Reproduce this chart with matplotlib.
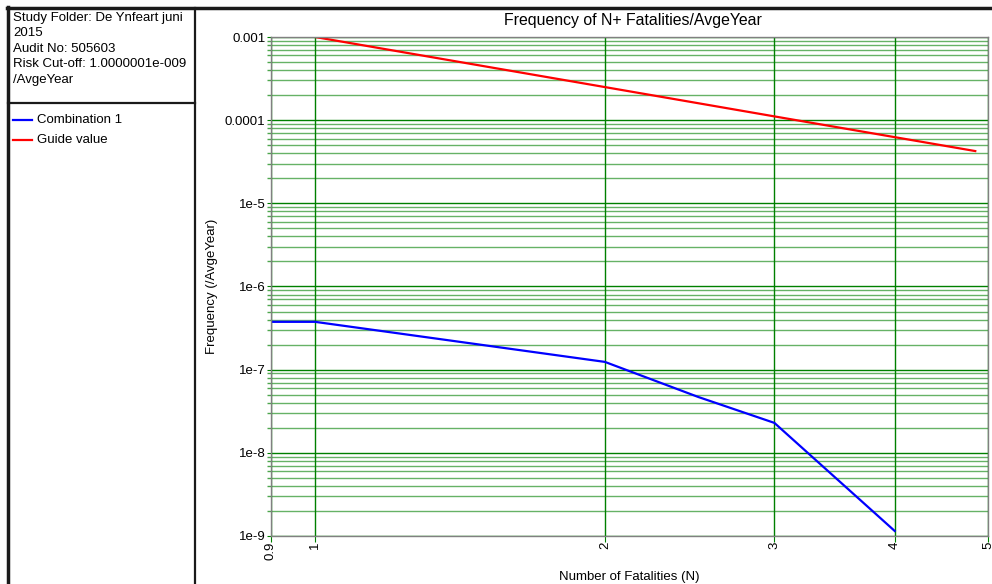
import numpy as np
import matplotlib
matplotlib.use('Agg')
import matplotlib.pyplot as plt
from matplotlib.lines import Line2D
from matplotlib.ticker import FixedLocator, NullLocator, LogLocator, FixedFormatter

plt.rcParams['font.family'] = ['Liberation Sans', 'DejaVu Sans']

# values
combo_n = [0.9, 1.0, 2.0, 2.5, 3.0, 4.0]
combo_freq = [3.76e-7, 3.76e-7, 1.24e-7, 4.7e-8, 2.29e-8, 1.15e-9]

guide_n = [1.0, 2.0, 3.0, 4.0, 4.85]
guide_freq = [1.0e-3, 2.5e-4, 1.11e-4, 6.25e-5, 4.25e-5]

x_ticks = [0.9, 1, 2, 3, 4, 5]
x_labels = ['0.9', '1', '2', '3', '4', '5']
y_ticks = [1e-9, 1e-8, 1e-7, 1e-6, 1e-5, 1e-4, 1e-3]
y_labels = ['1e-9', '1e-8', '1e-7', '1e-6', '1e-5', '0.0001', '0.001']

info_lines = ['Study Folder: De Ynfeart juni', '2015', 'Audit No: 505603',
              'Risk Cut-off: 1.0000001e-009', '/AvgeYear']

W, H = 992, 584
fig = plt.figure(figsize=(W / 100, H / 100), dpi=100)


def px(x, y):
    # pixel coords (from top-left) to figure fraction
    return x / W, 1 - y / H


GREEN = '#008000'
SPINE = '#808080'
FS = 9.5

x0, y0 = px(271, 536)
x1, y1 = px(988, 37)
ax = fig.add_axes([x0, y0, x1 - x0, y1 - y0])
ax.set_xscale('log')
ax.set_yscale('log')
ax.set_xlim(0.9, 5)
ax.set_ylim(1e-9, 1e-3)

ax.xaxis.set_major_locator(FixedLocator(x_ticks))
ax.xaxis.set_major_formatter(FixedFormatter(x_labels))
ax.xaxis.set_minor_locator(NullLocator())
ax.yaxis.set_major_locator(FixedLocator(y_ticks))
ax.yaxis.set_major_formatter(FixedFormatter(y_labels))
ax.yaxis.set_minor_locator(LogLocator(base=10, subs=np.arange(2, 10), numticks=20))

ax.grid(which='major', color=GREEN, linewidth=1.0)
ax.grid(which='minor', axis='y', color=GREEN, linewidth=1.0, alpha=0.6)
ax.set_axisbelow(True)

ax.tick_params(axis='x', which='major', length=4, color=GREEN, labelsize=FS,
               labelrotation=90, pad=0)
ax.tick_params(axis='y', which='major', length=3, color=GREEN, labelsize=FS, pad=1)
ax.tick_params(axis='y', which='minor', length=3, color='#4da64d', width=1.0)
for lbl in ax.get_xticklabels():
    lbl.set_verticalalignment('top')

for s in ax.spines.values():
    s.set_color(SPINE)
    s.set_linewidth(1.0)

ax.plot(combo_n, combo_freq, color='#0000ff', linewidth=1.6, label='Combination 1')
ax.plot(guide_n, guide_freq, color='#ff0000', linewidth=1.6, label='Guide value')

ax.set_xlabel('Number of Fatalities (N)', fontsize=FS, labelpad=8)
ax.set_ylabel('Frequency (/AvgeYear)', fontsize=FS, labelpad=5)

# title row
fig.text(*px(633, 20), 'Frequency of N+ Fatalities/AvgeYear', fontsize=11.4,
         ha='center', va='center')

# left panel frame
def hline(xa, xb, y, lw=2.0, color='#1a1a1a'):
    (fa, fy), (fb, _) = px(xa, y), px(xb, y)
    fig.add_artist(Line2D([fa, fb], [fy, fy], color=color, linewidth=lw))


def vline(x, ya, yb, lw=2.0, color='#1a1a1a'):
    (fx, fa), (_, fb) = px(x, ya), px(x, yb)
    fig.add_artist(Line2D([fx, fx], [fa, fb], color=color, linewidth=lw))


hline(7, W, 8, lw=2.5)
vline(8, 7, H, lw=2.5)
vline(195, 8, H, lw=1.6)
hline(8, 195, 103, lw=1.6)

for i, line in enumerate(info_lines):
    fig.text(*px(13, 18 + i * 15.4), line, fontsize=FS, ha='left', va='center')

# legend in left panel
handles = ax.get_lines()
for i, h in enumerate(handles):
    ly = 120 + i * 20
    (fa, fy), (fb, _) = px(13, ly), px(32, ly)
    fig.add_artist(Line2D([fa, fb], [fy, fy], color=h.get_color(), linewidth=1.6))
    fig.text(*px(37, ly), h.get_label(), fontsize=FS, ha='left', va='center')

fig.savefig('out.png', dpi=100)
